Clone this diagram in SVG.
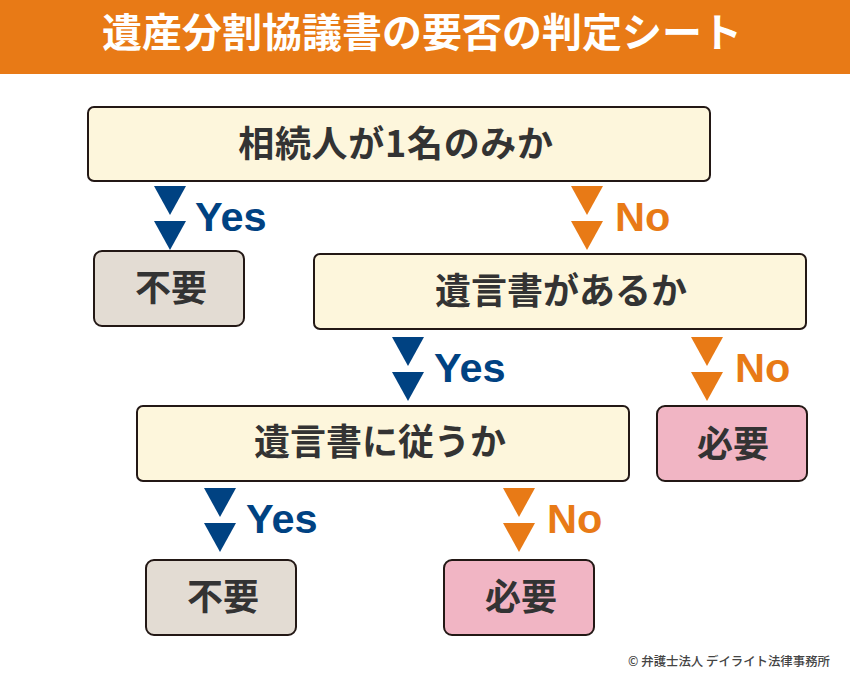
<svg xmlns="http://www.w3.org/2000/svg" width="850" height="679" viewBox="0 0 850 679">
<style>
text{font-family:"Noto Sans CJK JP","Liberation Sans",sans-serif;font-weight:700;text-anchor:middle}
.box{stroke:#231815;stroke-width:2}
.q{fill:#fdf6dc}.g{fill:#e3dcd3}.p{fill:#f1b5c4}
.t{font-size:36px;fill:#333}
.y{fill:#004282}.n{fill:#e87a16}
.l{font-family:"Liberation Sans",sans-serif;font-size:41.5px;text-anchor:start}
</style>
<defs>
<path id="tri" d="M-16 0H16L0 29Z"/>
</defs>
<rect width="850" height="74" fill="#e87a16"/>
<text x="422" y="47" font-size="40" fill="#fff">遺産分割協議書の要否の判定シート</text>
<g id="connectors">
<use href="#tri" x="170" y="186" class="y"/><use href="#tri" x="170" y="221" class="y"/>
<use href="#tri" x="587" y="186" class="n"/><use href="#tri" x="587" y="221" class="n"/>
<use href="#tri" x="408" y="337" class="y"/><use href="#tri" x="408" y="372" class="y"/>
<use href="#tri" x="707" y="337" class="n"/><use href="#tri" x="707" y="372" class="n"/>
<use href="#tri" x="220" y="488" class="y"/><use href="#tri" x="220" y="523" class="y"/>
<use href="#tri" x="519" y="488" class="n"/><use href="#tri" x="519" y="523" class="n"/>
<text x="195" y="231" class="l y">Yes</text><text x="615" y="231" class="l n">No</text>
<text x="434" y="382" class="l y">Yes</text><text x="735" y="382" class="l n">No</text>
<text x="246" y="533" class="l y">Yes</text><text x="547" y="533" class="l n">No</text>
</g>
<g id="n1"><rect x="88" y="107" width="622" height="74" rx="6" class="box q"/><text x="396" y="157" class="t" letter-spacing="0.7">相続人が1名のみか</text></g>
<g id="n2"><rect x="94" y="251" width="150" height="75" rx="8" class="box g"/><text x="171" y="301" class="t">不要</text></g>
<g id="n3"><rect x="314" y="254" width="492" height="75" rx="6" class="box q"/><text x="561" y="304" class="t">遺言書があるか</text></g>
<g id="n4"><rect x="137" y="406" width="492" height="75" rx="6" class="box q"/><text x="380" y="455" class="t">遺言書に従うか</text></g>
<g id="n5"><rect x="657" y="406" width="150" height="75" rx="8" class="box p"/><text x="733" y="457" class="t">必要</text></g>
<g id="n6"><rect x="146" y="560" width="150" height="75" rx="8" class="box g"/><text x="223" y="610" class="t">不要</text></g>
<g id="n7"><rect x="444" y="560" width="150" height="75" rx="8" class="box p"/><text x="521" y="610" class="t">必要</text></g>
<text x="729" y="666" font-size="12.4" fill="#444" style="font-weight:500">© 弁護士法人 デイライト法律事務所</text>
</svg>
